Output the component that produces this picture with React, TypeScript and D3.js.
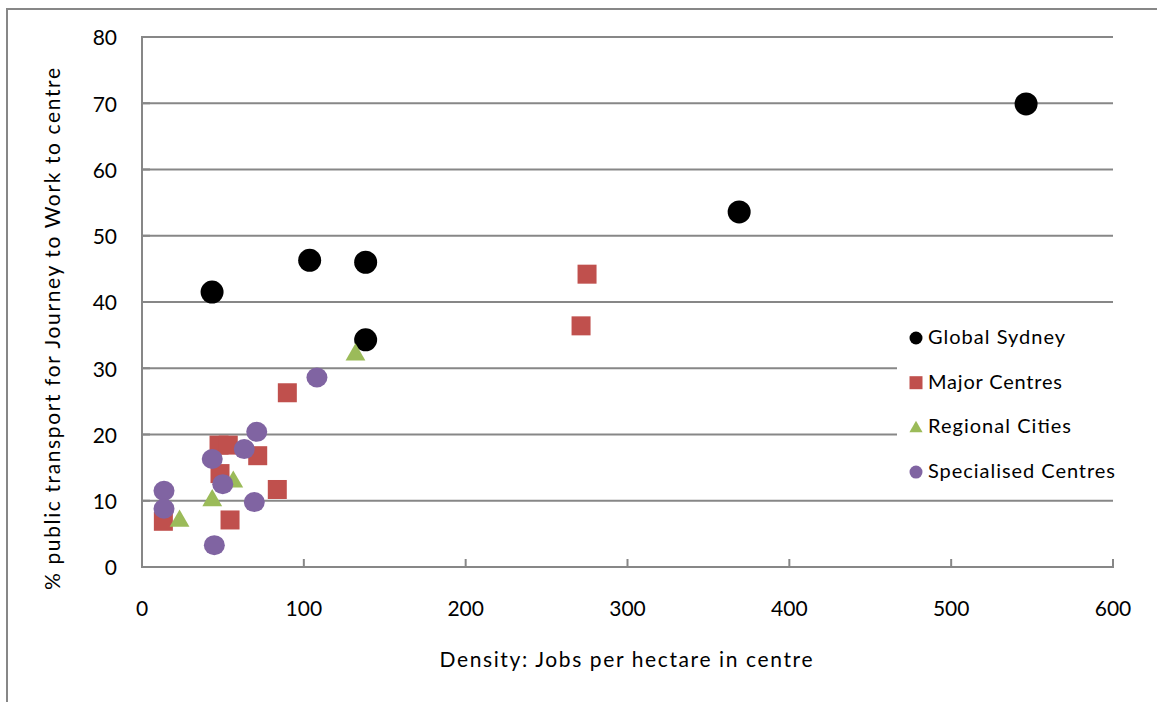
import React from 'react';
import * as d3 from 'd3';

// ---- data ----
const globalSydneyX = [43.3, 103.6, 138.2, 138.2, 369.0, 546.3];
const globalSydneyY = [41.5, 46.3, 46.0, 34.3, 53.6, 69.9];

const majorCentresX = [275.0, 271.3, 89.8, 47.6, 53.3, 71.5, 48.2, 83.6, 54.4, 13.2];
const majorCentresY = [44.2, 36.4, 26.3, 18.4, 18.4, 16.8, 14.1, 11.7, 7.1, 6.9];

const regionalCitiesX = [131.9, 56.4, 43.4, 23.2];
const regionalCitiesY = [32.2, 13.0, 10.2, 7.1];

const specialisedX = [108.1, 70.9, 63.2, 43.4, 49.9, 13.6, 13.6, 69.4, 44.7];
const specialisedY = [28.6, 20.4, 17.8, 16.3, 12.5, 11.5, 8.8, 9.8, 3.3];

const xTicks = [0, 100, 200, 300, 400, 500, 600];
const yTicks = [0, 10, 20, 30, 40, 50, 60, 70, 80];

const seriesNames = ['Global Sydney', 'Major Centres', 'Regional Cities', 'Specialised Centres'];
const seriesColors = ['#000000', '#C0504D', '#9BBB59', '#8064A2'];
const legendTextLengths = [137, 134, 143, 187];

const xTitle = 'Density: Jobs per hectare in centre';
const yTitle = '% public transport for Journey to Work to centre';

const FONT = 'Lato, "Open Sans", sans-serif';

function zip(xs: number[], ys: number[]) {
  return xs.map((x, i) => ({ x, y: ys[i] }));
}

function Marker({ kind, cx, cy, color }: { kind: number; cx: number; cy: number; color: string }) {
  if (kind === 0) return <circle cx={cx} cy={cy} r={11.5} fill={color} />;
  if (kind === 1) return <rect x={cx - 9.5} y={cy - 9.5} width={19} height={19} fill={color} />;
  if (kind === 2) {
    const tri = d3.symbol().type(d3.symbolTriangle).size(170)();
    return <path d={tri || ''} transform={`translate(${cx},${cy + 1})`} fill={color} />;
  }
  return <ellipse cx={cx} cy={cy} rx={10.5} ry={10} fill={color} />;
}

function LegendMarker({ kind, cx, cy, color }: { kind: number; cx: number; cy: number; color: string }) {
  if (kind === 0) return <circle cx={cx} cy={cy} r={6.5} fill={color} />;
  if (kind === 1) return <rect x={cx - 6.5} y={cy - 6.5} width={13} height={13} fill={color} />;
  if (kind === 2) {
    const tri = d3.symbol().type(d3.symbolTriangle).size(75)();
    return <path d={tri || ''} transform={`translate(${cx},${cy + 1})`} fill={color} />;
  }
  return <circle cx={cx} cy={cy} r={6.5} fill={color} />;
}

export default function App() {
  const W = 1157;
  const H = 702;
  const x = d3.scaleLinear().domain([0, 600]).range([142, 1113]);
  const y = d3.scaleLinear().domain([0, 80]).range([567, 37]);

  const series = [
    zip(globalSydneyX, globalSydneyY),
    zip(majorCentresX, majorCentresY),
    zip(regionalCitiesX, regionalCitiesY),
    zip(specialisedX, specialisedY),
  ];

  const grid = '#878787';
  const legendLeft = 897;
  const legendTop = 312;
  const legendBottom = 494;

  return (
    <svg
      width={W}
      height={H}
      style={{ position: 'absolute', left: 0, top: 0, background: '#fff' }}
      fontFamily={FONT}
    >
      <rect x={0} y={0} width={W} height={H} fill="#fff" />
      {/* chart area border */}
      <rect x={7} y={9} width={W + 20} height={H + 20} fill="none" stroke={grid} strokeWidth={2} />

      {/* gridlines */}
      {yTicks.filter((t) => t > 0).map((t) => (
        <line key={t} x1={x(0)} x2={x(600)} y1={y(t)} y2={y(t)} stroke={grid} strokeWidth={2} />
      ))}

      {/* legend background (covers gridlines) */}
      <rect x={legendLeft} y={legendTop} width={x(600) - legendLeft + 10} height={legendBottom - legendTop} fill="#fff" />

      {/* axes */}
      <line x1={x(0)} x2={x(0)} y1={y(80) - 1} y2={y(0) + 1} stroke={grid} strokeWidth={2} />
      <line x1={x(0) - 1} x2={x(600) + 1} y1={y(0)} y2={y(0)} stroke={grid} strokeWidth={2} />
      {xTicks.map((t) => (
        <line key={t} x1={x(t)} x2={x(t)} y1={y(0)} y2={y(0) - 8} stroke={grid} strokeWidth={2} />
      ))}
      {yTicks.map((t) => (
        <line key={t} x1={x(0)} x2={x(0) + 8} y1={y(t)} y2={y(t)} stroke={grid} strokeWidth={2} />
      ))}

      {/* tick labels */}
      {yTicks.map((t) => (
        <text key={t} x={117} y={y(t) + 3} textAnchor="end" dominantBaseline="middle" fontSize={21} fill="#000">
          {t}
        </text>
      ))}
      {xTicks.map((t) => (
        <text key={t} x={x(t)} y={611} textAnchor="middle" dominantBaseline="middle" fontSize={21} fill="#000">
          {t}
        </text>
      ))}

      {/* axis titles */}
      <text
        x={626}
        y={662}
        textAnchor="middle"
        dominantBaseline="middle"
        fontSize={21}
        fill="#000"
        textLength={373}
        lengthAdjust="spacing"
      >
        {xTitle}
      </text>
      <text
        transform={`translate(55,329) rotate(-90)`}
        textAnchor="middle"
        dominantBaseline="middle"
        fontSize={21}
        fill="#000"
        textLength={522}
        lengthAdjust="spacing"
      >
        {yTitle}
      </text>

      {/* points */}
      {series.map((pts, si) => (
        <g key={si}>
          {pts.map((p, i) => (
            <Marker key={i} kind={si} cx={x(p.x)} cy={y(p.y)} color={seriesColors[si]} />
          ))}
        </g>
      ))}

      {/* legend */}
      {seriesNames.map((name, i) => {
        const cy = 338 + i * 44.7;
        return (
          <g key={name}>
            <LegendMarker kind={i} cx={916} cy={cy} color={seriesColors[i]} />
            <text
              x={928}
              y={cy + 1}
              dominantBaseline="middle"
              fontSize={20}
              fill="#000"
              textLength={legendTextLengths[i]}
              lengthAdjust="spacing"
            >
              {name}
            </text>
          </g>
        );
      })}
    </svg>
  );
}
